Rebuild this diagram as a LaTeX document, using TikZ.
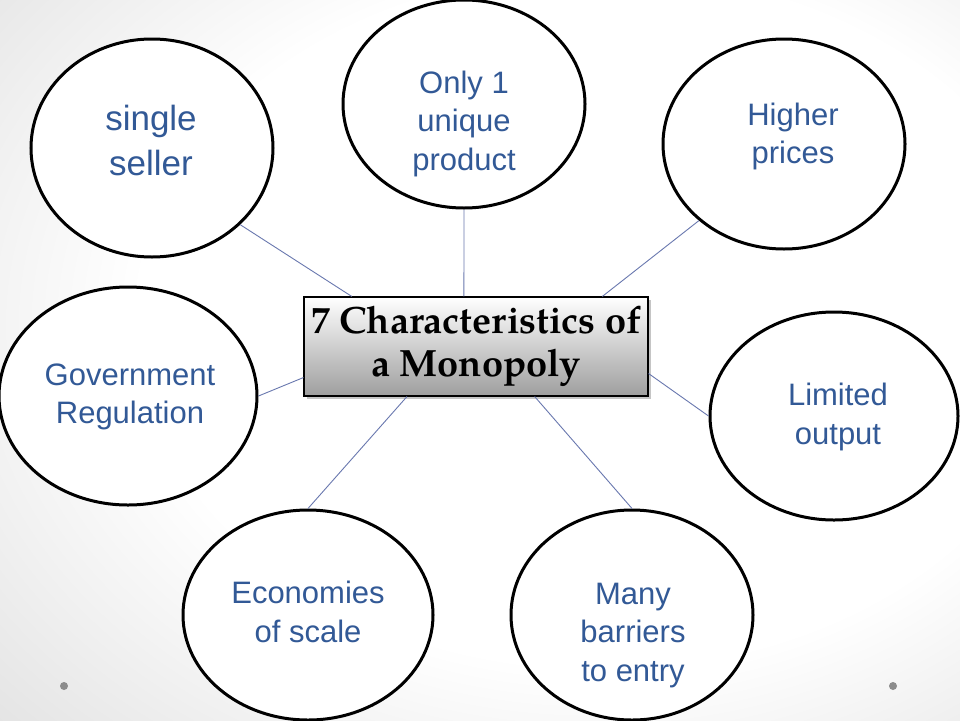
\documentclass[tikz,border=0pt]{standalone}
\usepackage{fontspec}
\setmainfont{Liberation Sans}
\newfontfamily\boxfont{texgyrepagella-bold.otf}
\usetikzlibrary{shapes.geometric,calc,shadows}
\definecolor{txtblue}{RGB}{50,89,150}
\definecolor{linkblue}{RGB}{105,120,175}
\definecolor{dotgray}{RGB}{140,140,140}
\pgfdeclareradialshading{bgshade}{\pgfpoint{9bp}{4bp}}{color(0bp)=(white); color(24bp)=(white); color(50bp)=(black!17); color(80bp)=(black!27)}
\begin{document}
\begin{tikzpicture}[x=1pt,y=-1pt,
  oval/.style={ellipse, draw=black, line width=3pt, fill=white, inner sep=0pt},
  lbl/.style={text=txtblue, align=center, font=\fontsize{31}{38.5}\selectfont},
  biglbl/.style={text=txtblue, align=center, font=\fontsize{35}{45}\selectfont},
  link/.style={draw=linkblue, line width=0.9pt},
  hub/.style={draw=black, line width=1.1pt, top color=white, bottom color=black!38,
    minimum width=344pt, minimum height=99pt, inner sep=0pt, align=center,
    font=\boxfont\fontsize{38}{43}\selectfont,
    drop shadow={shadow xshift=3pt, shadow yshift=-3pt, opacity=0.45}},
  dotmark/.style={circle, fill=dotgray, inner sep=0pt, minimum size=8pt}]
\useasboundingbox (0,0) rectangle (960,720);
\clip (0,0) rectangle (960,720);
\fill[shading=bgshade] (0,0) rectangle (960,720);

% ellipses
\node[oval, minimum width=242pt, minimum height=218pt] (ss) at (152,148) {};
\node[oval, minimum width=242pt, minimum height=208pt] (o1) at (464,104) {};
\node[oval, minimum width=242pt, minimum height=210pt] (hp) at (784,144) {};
\node[oval, minimum width=258pt, minimum height=218pt] (gr) at (128,396) {};
\node[oval, minimum width=248pt, minimum height=208pt] (lo) at (834,416) {};
\node[oval, minimum width=250pt, minimum height=210pt] (es) at (308,615) {};
\node[oval, minimum width=242pt, minimum height=210pt] (mb) at (632,615) {};

% centre box
\node[hub] (box) at (476,346.5) {7 Characteristics of\\a Monopoly};

% connectors
\draw[link] (ss.-41) -- ($(box.north west)!0.14!(box.north east)$);
\draw[link] (o1.south) -- ($(box.north west)!0.465!(box.north east)$);
\draw[link] (hp.-138) -- ($(box.north west)!0.866!(box.north east)$);
\draw[link] (gr.east) -- ($(box.north west)!0.81!(box.south west)$);
\draw[link] (lo.west) -- ($(box.north east)!0.77!(box.south east)$);
\draw[link] (es.north) -- ($(box.south west)!0.30!(box.south east)$);
\draw[link] (mb.north) -- ($(box.south west)!0.67!(box.south east)$);

% labels
\node[biglbl] (sst) at (151,140) {single\\seller};
\node[lbl] (o1t) at (464,123.5) {Only 1\\unique\\product};
\node[lbl] (hpt) at (793,136.5) {Higher\\prices};
\node[lbl] (grt) at (130,397) {Government\\Regulation};
\node[lbl] (lot) at (838,417) {Limited\\output};
\node[lbl] (est) at (308,612) {Economies\\of scale};
\node[lbl] (mbt) at (633,635.5) {Many\\barriers\\to entry};

% decorative dots
\node[dotmark] (d1) at (64,686) {};
\node[dotmark] (d2) at (893,686) {};
\end{tikzpicture}
\end{document}
